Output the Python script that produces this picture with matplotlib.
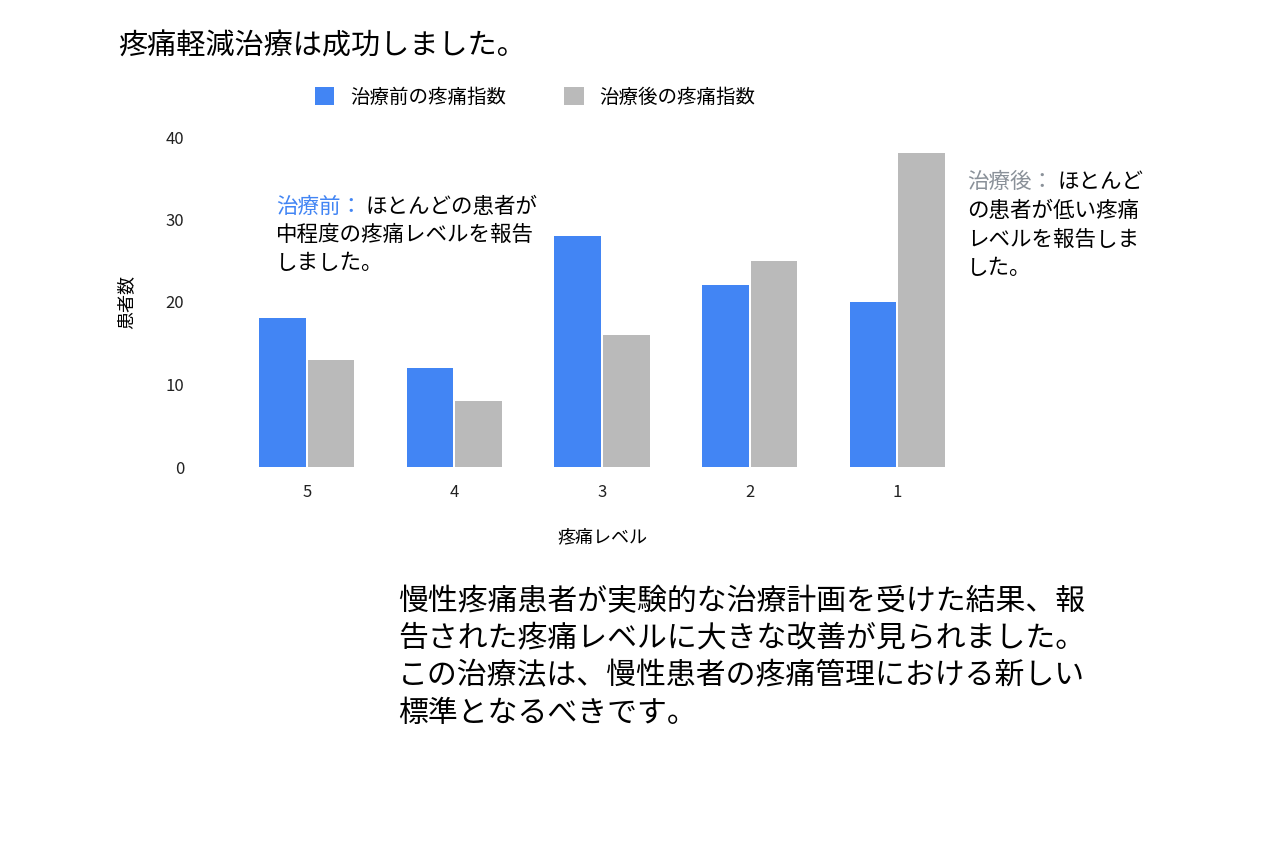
import matplotlib
matplotlib.use("Agg")
import matplotlib.pyplot as plt
import numpy as np

plt.rcParams['font.family'] = ['Noto Sans CJK JP', 'DejaVu Sans']

categories = ['5', '4', '3', '2', '1']
before = [18, 12, 28, 22, 20]
after = [13, 8, 16, 25, 38]

W, H = 1264, 846
fig = plt.figure(figsize=(W/100, H/100), dpi=100)
ax = fig.add_axes([233/W, 1-467/H, (971-233)/W, (467-137)/H])
x = np.arange(len(categories))
bw = 0.315
blue = '#4285f4'
gray = '#bababa'
ax.bar(x - bw/2 - 0.007, before, bw, color=blue, label='治療前の疼痛指数')
ax.bar(x + bw/2 + 0.007, after, bw, color=gray, label='治療後の疼痛指数')
ax.set_xlim(-0.5, 4.5)
ax.set_ylim(0, 40)
ax.set_yticks([0, 10, 20, 30, 40])
ax.set_xticks(x)
ax.set_xticklabels(categories)
for s in ax.spines.values():
    s.set_visible(False)
ax.tick_params(length=0, labelsize=12, colors='#222222')
ax.tick_params(axis='y', pad=35)
ax.tick_params(axis='x', pad=12)
ax.set_ylabel('患者数', fontsize=13, labelpad=22)
ax.set_xlabel('疼痛レベル', fontsize=13, labelpad=20)

fig.legend(loc='center', bbox_to_anchor=(535/W, 1-97/H), ncol=2, frameon=False,
           fontsize=14, handlelength=1.0, handleheight=1.0, columnspacing=3.0)

fig.text(118/W, 1-47/H, '疼痛軽減治療は成功しました。', fontsize=21, va='center', ha='left')

fs = 15.5
fig.text(276/W, 1-207/H, '治療前：', fontsize=fs, color=blue, va='center', ha='left')
fig.text(366/W, 1-207/H, 'ほとんどの患者が', fontsize=fs, va='center', ha='left')
fig.text(276/W, 1-235/H, '中程度の疼痛レベルを報告', fontsize=fs, va='center', ha='left')
fig.text(276/W, 1-263/H, 'しました。', fontsize=fs, va='center', ha='left')

fig.text(967/W, 1-182/H, '治療後：', fontsize=fs, color='#8a9199', va='center', ha='left')
fig.text(1057/W, 1-182/H, 'ほとんど', fontsize=fs, va='center', ha='left')
fig.text(967/W, 1-211/H, 'の患者が低い疼痛', fontsize=fs, va='center', ha='left')
fig.text(967/W, 1-240/H, 'レベルを報告しま', fontsize=fs, va='center', ha='left')
fig.text(967/W, 1-268/H, 'した。', fontsize=fs, va='center', ha='left')

body = ['慢性疼痛患者が実験的な治療計画を受けた結果、報',
        '告された疼痛レベルに大きな改善が見られました。',
        'この治療法は、慢性患者の疼痛管理における新しい',
        '標準となるべきです。']
for i, line in enumerate(body):
    fig.text(398/W, 1-(602+37*i)/H, line, fontsize=21.5, va='center', ha='left')

fig.savefig('out.png', dpi=100, facecolor='white')
